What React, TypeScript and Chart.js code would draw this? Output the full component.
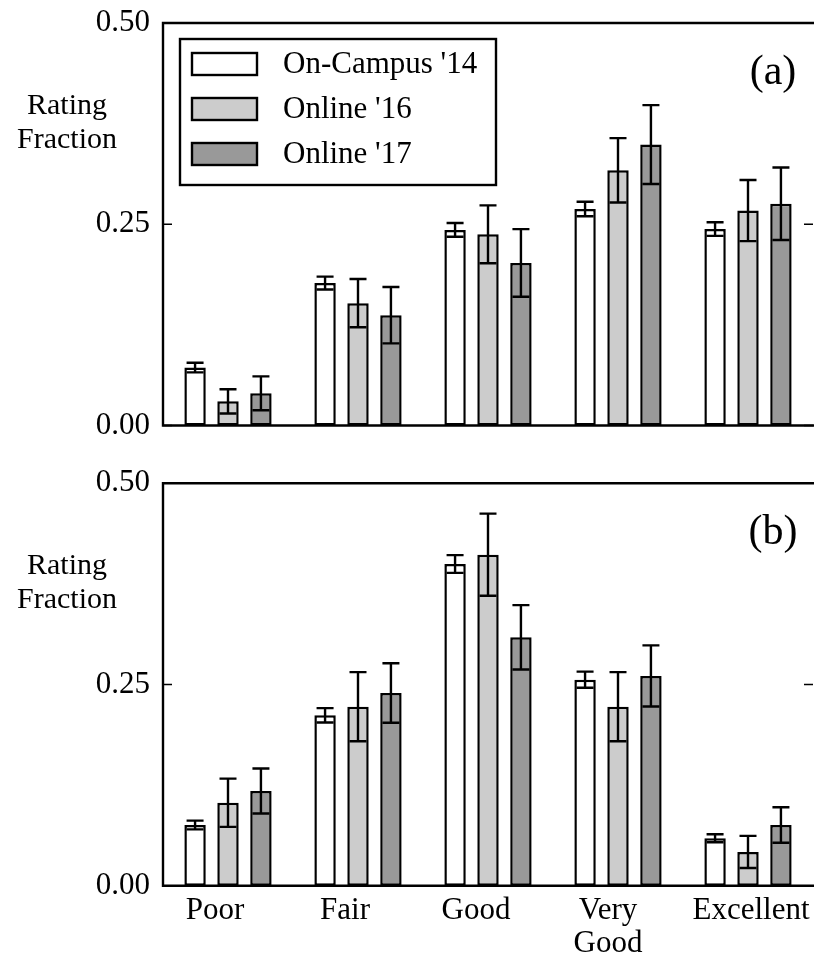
import React, { useEffect, useRef } from "react";
import { Chart, registerables } from "chart.js";

Chart.register(...registerables);

// ---------------- data ----------------
const CATEGORIES: (string | string[])[] = ["Poor", "Fair", "Good", ["Very", "Good"], "Excellent"];
const SERIES_NAMES = ["On-Campus '14", "Online '16", "Online '17"];
const Y_TICKS = [0, 0.25, 0.5];
const PANEL_LABELS = ["(a)", "(b)"];
const Y_TITLE = ["Rating", "Fraction"];

// panel (a)
const A_ONCAMPUS14 = [0.072, 0.177, 0.243, 0.269, 0.244];
const A_ONCAMPUS14_ERR = [0.006, 0.008, 0.0085, 0.009, 0.0085];
const A_ONLINE16 = [0.03, 0.152, 0.2375, 0.317, 0.267];
const A_ONLINE16_ERR = [0.015, 0.03, 0.036, 0.04, 0.038];
const A_ONLINE17 = [0.04, 0.137, 0.202, 0.349, 0.2755];
const A_ONLINE17_ERR = [0.021, 0.035, 0.042, 0.049, 0.045];

// panel (b)
const B_ONCAMPUS14 = [0.0754, 0.2117, 0.3997, 0.256, 0.0589];
const B_ONCAMPUS14_ERR = [0.0054, 0.009, 0.011, 0.01, 0.005];
const B_ONLINE16 = [0.1031, 0.2224, 0.4113, 0.2224, 0.0419];
const B_ONLINE16_ERR = [0.03, 0.043, 0.051, 0.043, 0.02];
const B_ONLINE17 = [0.1177, 0.2394, 0.3086, 0.2606, 0.0754];
const B_ONLINE17_ERR = [0.028, 0.037, 0.04, 0.038, 0.022];

// ---------------- styles ----------------
const FONT = "'Liberation Serif', 'Times New Roman', Times, serif";
const FILLS = ["#ffffff", "#cccccc", "#999999"];
const X_LABEL_NUDGE = [-13, -13, -12, -10, 3];

const decorPlugin = {
  id: "panelDecor",
  afterDraw(chart: any, _args: any, opts: any) {
    const ctx = chart.ctx as CanvasRenderingContext2D;
    const { left, right, top, bottom } = chart.chartArea;
    const yScale = chart.scales.y;
    const xScale = chart.scales.x;
    ctx.save();

    // error bars
    ctx.strokeStyle = "#000";
    ctx.lineWidth = 2.4;
    chart.data.datasets.forEach((ds: any, di: number) => {
      const meta = chart.getDatasetMeta(di);
      meta.data.forEach((bar: any, i: number) => {
        const v = ds.data[i];
        const e = ds.errors[i];
        const yHi = yScale.getPixelForValue(v + e);
        const yLo = yScale.getPixelForValue(v - e);
        const cx = bar.x;
        const hw = 8.5;
        ctx.beginPath();
        ctx.moveTo(cx, yHi);
        ctx.lineTo(cx, yLo);
        ctx.moveTo(cx - hw, yHi);
        ctx.lineTo(cx + hw, yHi);
        ctx.moveTo(cx - hw, yLo);
        ctx.lineTo(cx + hw, yLo);
        ctx.stroke();
      });
    });

    // frame (right edge falls outside the picture)
    ctx.lineWidth = 2.4;
    ctx.beginPath();
    ctx.moveTo(right + 3, top);
    ctx.lineTo(left, top);
    ctx.lineTo(left, bottom);
    ctx.lineTo(right + 3, bottom);
    ctx.stroke();
    // inward ticks
    ctx.lineWidth = 1.5;
    Y_TICKS.forEach((t) => {
      const py = yScale.getPixelForValue(t);
      ctx.beginPath();
      ctx.moveTo(left, py);
      ctx.lineTo(left + 9, py);
      ctx.moveTo(right, py);
      ctx.lineTo(right - 9, py);
      ctx.stroke();
    });

    ctx.fillStyle = "#000";
    // y title
    ctx.font = `30px ${FONT}`;
    ctx.textAlign = "center";
    ctx.textBaseline = "alphabetic";
    ctx.fillText(Y_TITLE[0], 67, top + 91);
    ctx.fillText(Y_TITLE[1], 67, top + 125);

    // panel label
    ctx.font = `42px ${FONT}`;
    ctx.fillText(opts.panelLabel, 773, top + 61);

    // legend
    if (opts.showLegend) {
      const bx = left + 17;
      const by = top + 16;
      ctx.lineWidth = 2.4;
      ctx.strokeRect(bx, by, 316, 146);
      ctx.font = `31px ${FONT}`;
      ctx.textAlign = "left";
      ctx.textBaseline = "middle";
      chart.data.datasets.forEach((ds: any, di: number) => {
        const cy = by + 25 + di * 45;
        ctx.fillStyle = ds.backgroundColor;
        ctx.fillRect(bx + 12, cy - 11, 65, 22);
        ctx.strokeRect(bx + 12, cy - 11, 65, 22);
        ctx.fillStyle = "#000";
        ctx.fillText(ds.label, bx + 103, cy + 1);
      });
    }

    // x labels
    if (opts.showXLabels) {
      ctx.font = `31px ${FONT}`;
      ctx.textAlign = "center";
      ctx.textBaseline = "alphabetic";
      ctx.fillStyle = "#000";
      CATEGORIES.forEach((c, i) => {
        const lines = Array.isArray(c) ? c : [c];
        const px = xScale.getPixelForValue(i) + X_LABEL_NUDGE[i];
        lines.forEach((ln, k) => {
          ctx.fillText(ln, px, bottom + 33 + k * 33);
        });
      });
    }
    ctx.restore();
  },
};

function buildChart(
  canvas: HTMLCanvasElement,
  values: number[][],
  errors: number[][],
  panelLabel: string,
  showLegend: boolean,
  showXLabels: boolean,
  padding: { top: number; bottom: number; left: number; right: number }
) {
  return new Chart(canvas, {
    type: "bar",
    data: {
      labels: CATEGORIES.map((c) => (Array.isArray(c) ? c.join(" ") : c)),
      datasets: SERIES_NAMES.map((name, i) => ({
        label: name,
        data: values[i],
        errors: errors[i],
        backgroundColor: FILLS[i],
        borderColor: "#000",
        borderWidth: 2.5,
        borderSkipped: false,
        categoryPercentage: 0.76,
        barPercentage: 0.65,
      })) as any,
    },
    options: {
      animation: false,
      responsive: false,
      events: [],
      layout: { padding },
      plugins: {
        legend: { display: false },
        tooltip: { enabled: false },
        panelDecor: { panelLabel, showLegend, showXLabels },
      } as any,
      scales: {
        x: {
          display: false,
          offset: true,
          grid: { display: false },
        },
        y: {
          min: 0,
          max: 0.5,
          afterFit: (scale: any) => {
            scale.width = 163;
            scale.paddingTop = 0;
            scale.paddingBottom = 0;
          },
          afterBuildTicks: (scale: any) => {
            scale.ticks = Y_TICKS.map((v) => ({ value: v }));
          },
          grid: { display: false, drawTicks: false },
          border: { display: false },
          ticks: {
            padding: 13,
            color: "#000",
            font: { family: FONT, size: 31 },
            callback: (v: any) => Number(v).toFixed(2),
          },
        },
      },
    },
    plugins: [decorPlugin],
  });
}

export default function App() {
  const topRef = useRef<HTMLCanvasElement>(null);
  const botRef = useRef<HTMLCanvasElement>(null);

  useEffect(() => {
    const c1 = buildChart(
      topRef.current!,
      [A_ONCAMPUS14, A_ONLINE16, A_ONLINE17],
      [A_ONCAMPUS14_ERR, A_ONLINE16_ERR, A_ONLINE17_ERR],
      PANEL_LABELS[0],
      true,
      false,
      { top: 23, bottom: 29.5, left: 0, right: 1 }
    );
    const c2 = buildChart(
      botRef.current!,
      [B_ONCAMPUS14, B_ONLINE16, B_ONLINE17],
      [B_ONCAMPUS14_ERR, B_ONLINE16_ERR, B_ONLINE17_ERR],
      PANEL_LABELS[1],
      false,
      true,
      { top: 28.3, bottom: 71.3, left: 0, right: 1 }
    );
    return () => {
      c1.destroy();
      c2.destroy();
    };
  }, []);

  return (
    <div
      style={{
        position: "absolute",
        left: 0,
        top: 0,
        width: 814,
        height: 957,
        overflow: "hidden",
        background: "#fff",
      }}
    >
      <canvas
        ref={topRef}
        width={814}
        height={455}
        style={{ position: "absolute", left: 0, top: 0, width: 814, height: 455 }}
      />
      <canvas
        ref={botRef}
        width={814}
        height={502}
        style={{ position: "absolute", left: 0, top: 455, width: 814, height: 502 }}
      />
    </div>
  );
}
